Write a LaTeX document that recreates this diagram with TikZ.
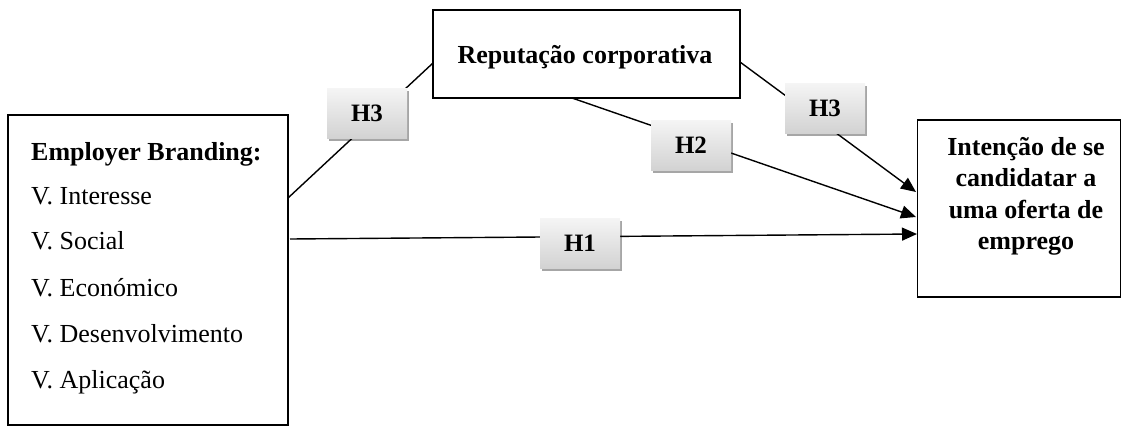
\documentclass[tikz,border=0pt]{standalone}
\usepackage{fontspec}
\setmainfont{Liberation Serif}
\usetikzlibrary{shadows,arrows.meta}
\begin{document}
\begin{tikzpicture}[x=1pt,y=-1pt,
  box/.style={draw=black,line width=1.2pt,fill=white,inner sep=0pt},
  hlab/.style={draw=none,top color=gray!8,bottom color=gray!35,minimum width=80pt,minimum height=50pt,
     font=\fontsize{25}{28}\selectfont\bfseries,
     drop shadow={shadow xshift=1.5pt,shadow yshift=-2.5pt,opacity=0.35,fill=black}},
  conn/.style={line width=1.4pt},
  arr/.style={conn,-{Triangle[length=15pt,width=13pt]}},
  txt/.style={font=\fontsize{26}{30}\selectfont,anchor=base west,inner sep=0pt}]
\useasboundingbox (0,0) rectangle (1130,426);
% boxes
\draw[box] (8,115) rectangle (288,425);
\node[txt,font=\fontsize{26}{30}\selectfont\bfseries] (eb) at (31,160) {Employer Branding:};
\node[txt] (v1) at (31,204) {V. Interesse};
\node[txt] (v2) at (31,249) {V. Social};
\node[txt] (v3) at (31,296) {V. Económico};
\node[txt] (v4) at (31,342) {V. Desenvolvimento};
\node[txt] (v5) at (31,388) {V. Aplicação};
\coordinate (ebR1) at (288,198);
\coordinate (ebR2) at (290,239);

\node[box,minimum width=307pt,minimum height=88pt] (rep) at (586.5,54) {};
\node[font=\fontsize{26}{30}\selectfont\bfseries,anchor=base,inner sep=0pt] (reptxt) at (585,63) {Reputação corporativa};
\coordinate (repL) at (433,63);
\coordinate (repR) at (740,62);
\coordinate (repB) at (572,98);

\node[box,minimum width=203pt,minimum height=177pt] (int) at (1019,208.5) {};
\node[font=\fontsize{26}{30}\selectfont\bfseries,align=center,inner sep=0pt,anchor=north] (inttxt) at (1026,137) {Intenção de se\\[1.5pt]candidatar a\\[1.5pt]uma oferta de\\[1.5pt]emprego};
\coordinate (t1) at (916,192);
\coordinate (t2) at (916,217);
\coordinate (t3) at (917,234);

% connectors
\draw[conn] (ebR1) -- (repL);
\draw[arr] (repR) -- (t1);
\draw[arr] (repB) -- (t2);
\draw[arr] (ebR2) -- (t3);

% labels
\node[hlab] (h3a) at (367,113) {H3};
\node[hlab] (h3b) at (825,108) {H3};
\node[hlab] (h2) at (691,145) {H2};
\node[hlab] (h1) at (580,243) {H1};
\end{tikzpicture}
\end{document}
